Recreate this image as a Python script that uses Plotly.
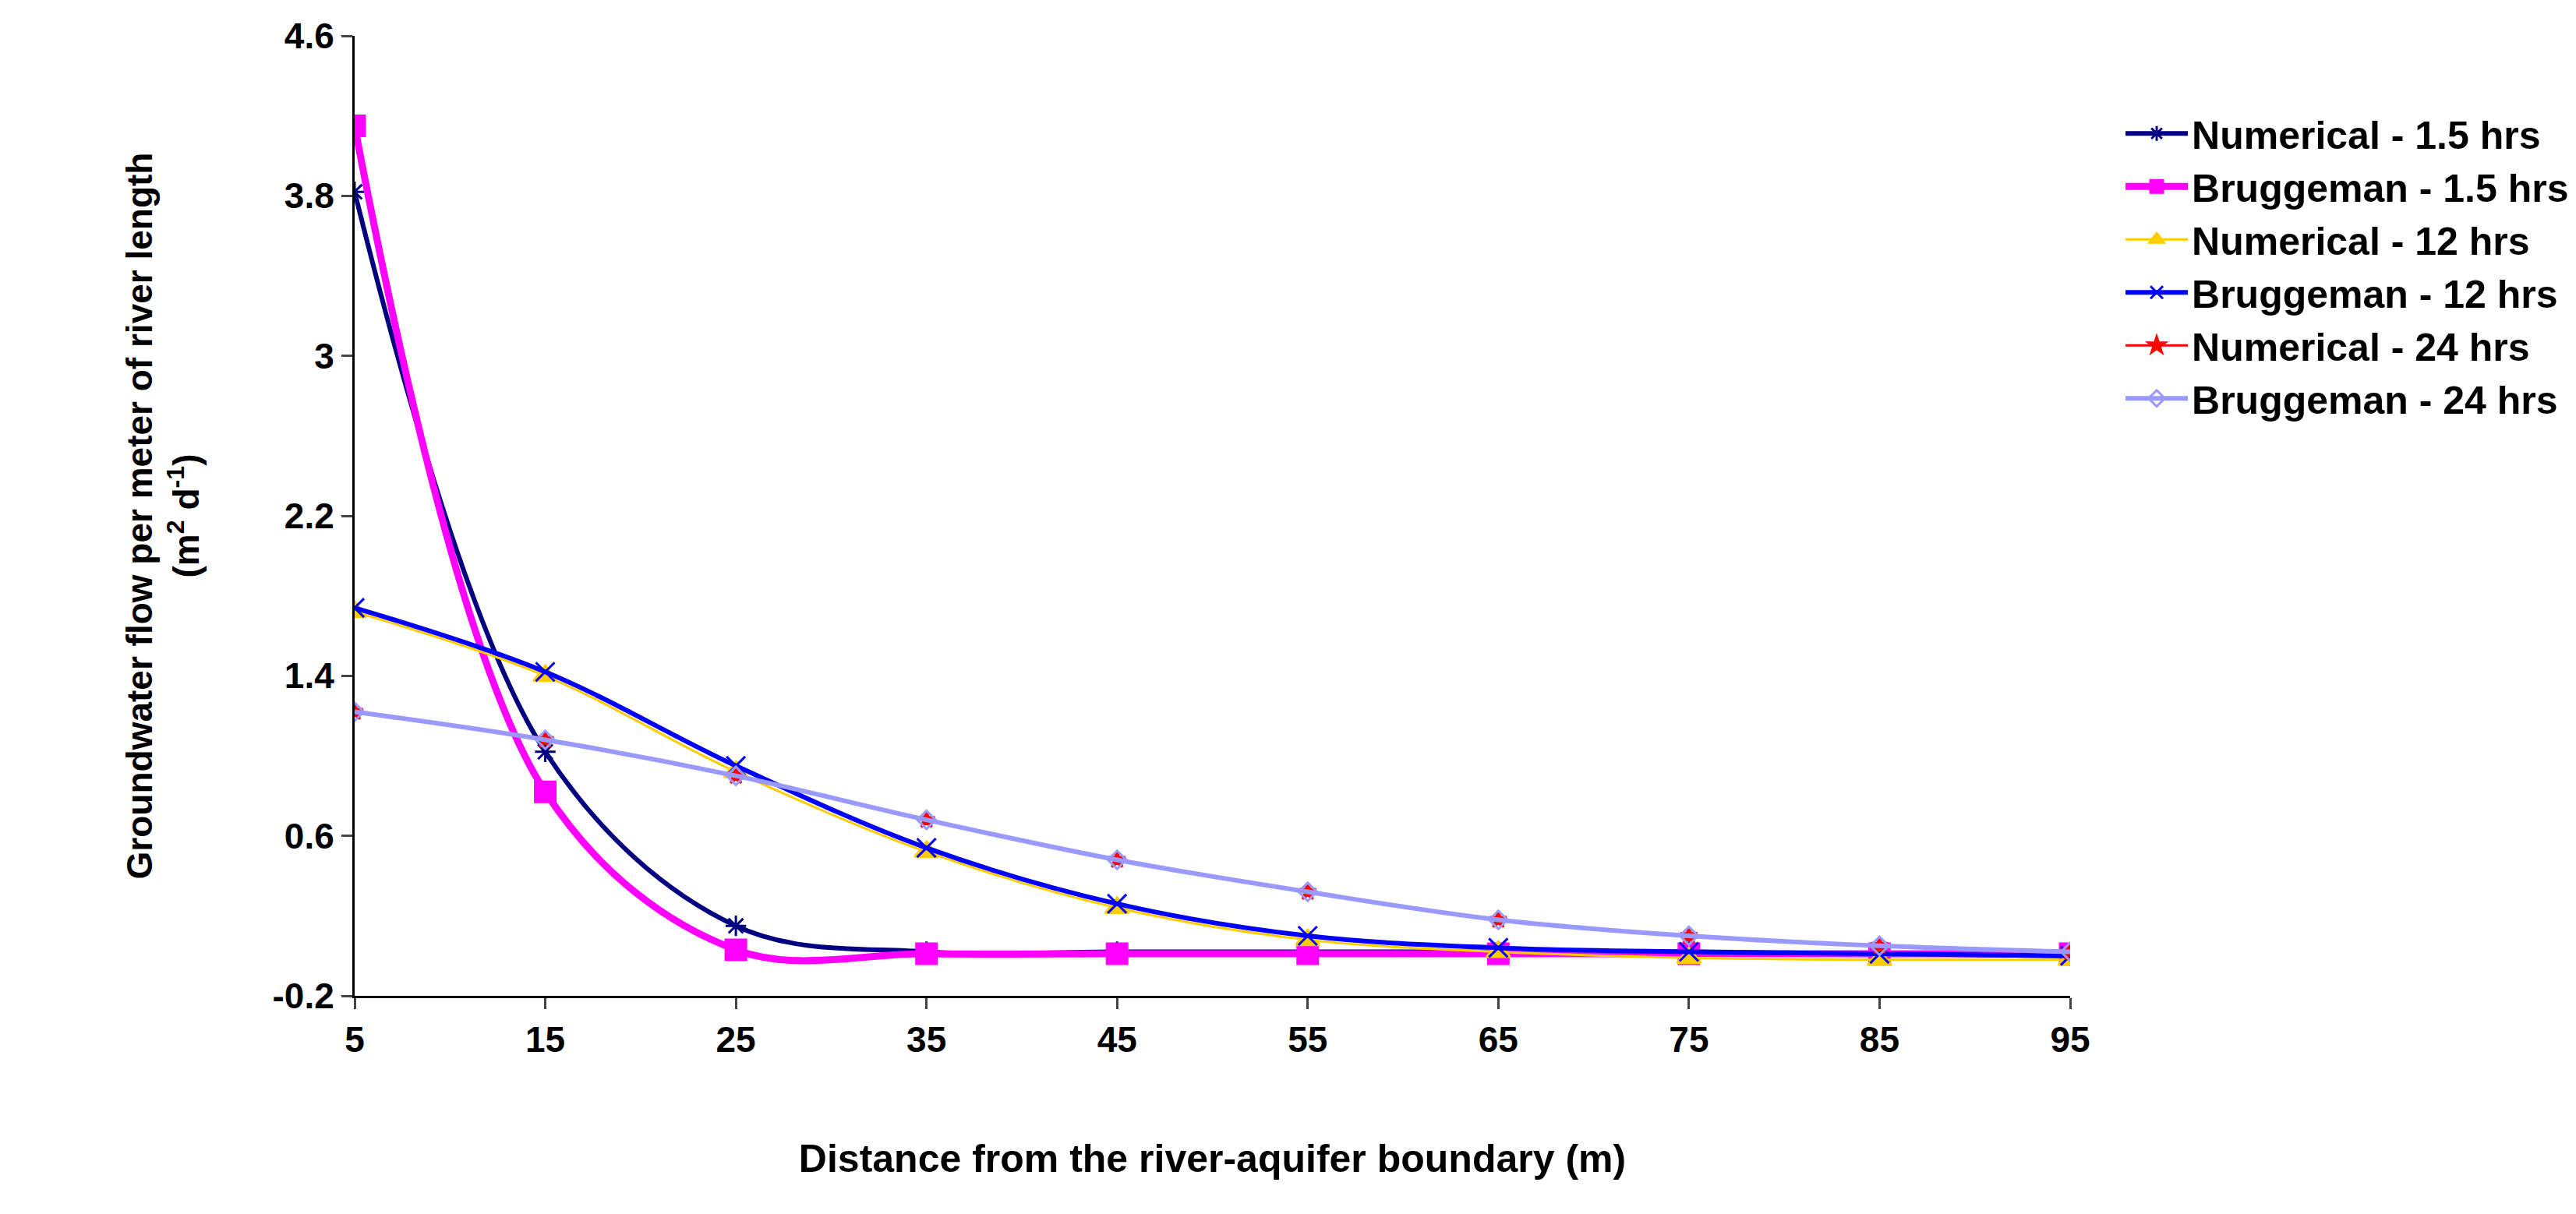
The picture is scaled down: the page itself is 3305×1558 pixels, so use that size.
import plotly.graph_objects as go

distance = [5, 15, 25, 35, 45, 55, 65, 75, 85, 95]
num_15 = [3.82, 1.02, 0.15, 0.02, 0.02, 0.02, 0.02, 0.02, 0.01, 0.0]
brug_15 = [4.15, 0.82, 0.03, 0.01, 0.01, 0.01, 0.01, 0.01, 0.01, 0.01]
num_12 = [1.72, 1.40, 0.92, 0.52, 0.24, 0.08, 0.02, -0.01, -0.02, -0.02]
brug_12 = [1.74, 1.42, 0.95, 0.54, 0.26, 0.10, 0.04, 0.02, 0.01, 0.0]
num_24 = [1.22, 1.08, 0.90, 0.68, 0.48, 0.32, 0.18, 0.10, 0.05, 0.02]
brug_24 = [1.22, 1.08, 0.90, 0.68, 0.48, 0.32, 0.18, 0.10, 0.05, 0.02]

series = [
    ('Numerical - 1.5 hrs', num_15, '#000080', 'asterisk-open', 6, 22),
    ('Bruggeman - 1.5 hrs', brug_15, '#FF00FF', 'square', 9, 26),
    ('Numerical - 12 hrs', num_12, '#FFCC00', 'triangle-up', 3, 26),
    ('Bruggeman - 12 hrs', brug_12, '#0000FF', 'x-thin-open', 6, 24),
    ('Numerical - 24 hrs', num_24, '#FF0000', 'star', 3, 16),
    ('Bruggeman - 24 hrs', brug_24, '#9999FF', 'diamond-open', 6, 18),
]

fig = go.Figure()
for name, vals, col, sym, w, sz in series:
    fig.add_trace(go.Scatter(
        x=distance, y=vals, name=name, mode='lines+markers',
        line=dict(color=col, width=w, shape='spline', smoothing=1.0),
        marker=dict(symbol=sym, size=sz, color=col, line=dict(color=col, width=3))
    ))

bold = dict(family='Liberation Sans', color='black', size=46, weight='bold')
fig.update_layout(
    width=3305, height=1558,
    paper_bgcolor='white', plot_bgcolor='white',
    margin=dict(l=447, r=645, t=38, b=288),
    font=bold,
    showlegend=True,
    legend=dict(x=1.03, y=0.93, yanchor='top',
                font=dict(size=50, family='Liberation Sans', weight='bold', color='black'),
                tracegroupgap=58, itemwidth=80),
    xaxis=dict(range=[5, 95], tickvals=distance, showline=True, linecolor='black', linewidth=3,
               ticks='outside', ticklen=14, tickwidth=3, showgrid=False, zeroline=False,
               tickfont=bold,
               title=dict(text='Distance from the river-aquifer boundary (m)',
                          font=dict(size=50, family='Liberation Sans', weight='bold'), standoff=110)),
    yaxis=dict(range=[-0.2, 4.6], tickvals=[-0.2, 0.6, 1.4, 2.2, 3, 3.8, 4.6],
               ticktext=['-0.2', '0.6', '1.4', '2.2', '3', '3.8', '4.6'],
               showline=True, linecolor='black', linewidth=3, ticks='outside', ticklen=14,
               tickwidth=3, showgrid=False, zeroline=False,
               tickfont=bold,
               title=dict(text='Groundwater flow per meter of river length<br>(m<sup>2</sup> d<sup>-1</sup>)',
                          font=dict(size=46, family='Liberation Sans', weight='bold'), standoff=80)),
)

fig.write_html('out.html')
